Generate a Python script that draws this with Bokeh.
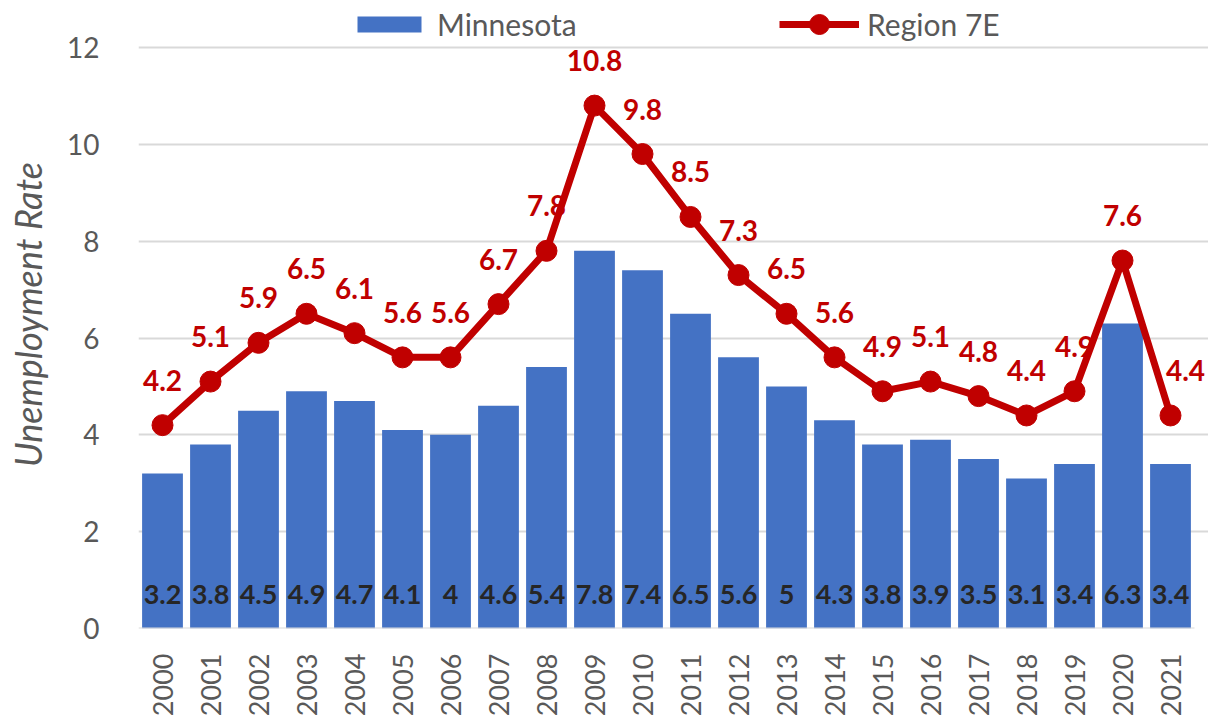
import math
from bokeh.plotting import figure
from bokeh.models import ColumnDataSource, FixedTicker, Legend, LegendItem, Range1d
from bokeh.core.properties import value
from bokeh.embed import file_html
from bokeh.resources import INLINE

years = list(range(2000, 2022))
minnesota = [3.2, 3.8, 4.5, 4.9, 4.7, 4.1, 4.0, 4.6, 5.4, 7.8, 7.4, 6.5, 5.6, 5.0, 4.3, 3.8, 3.9, 3.5, 3.1, 3.4, 6.3, 3.4]
region7e = [4.2, 5.1, 5.9, 6.5, 6.1, 5.6, 5.6, 6.7, 7.8, 10.8, 9.8, 8.5, 7.3, 6.5, 5.6, 4.9, 5.1, 4.8, 4.4, 4.9, 7.6, 4.4]
y_ticks = [0, 2, 4, 6, 8, 10, 12]

def fmt(v):
    return str(int(v)) if float(v).is_integer() else f"{v:g}"

src = ColumnDataSource(dict(
    year=years,
    mn=minnesota,
    r7=region7e,
    mn_lbl=[fmt(v) for v in minnesota],
    zero=[0] * len(years),
))
rest = ColumnDataSource(dict(year=years[:-1], r7=region7e[:-1], r7_lbl=[fmt(v) for v in region7e[:-1]]))
last = ColumnDataSource(dict(year=years[-1:], r7=region7e[-1:], r7_lbl=[fmt(v) for v in region7e[-1:]]))

FONT = "Lato"
GRAY = "#595959"
RED = "#C00000"
BLUE = "#4472C4"

# frame: 48 px per year (plus room on the right for the last label), room on top for the legend
PX_PER_UNIT = 581 / 12
x_range = Range1d(years[0] - 0.5, years[-1] + 0.5 + 14 / 48)
y_range = Range1d(0, 12 + 47 / PX_PER_UNIT)

p = figure(x_range=x_range, y_range=y_range, width=1208, height=720,
           output_backend="svg", toolbar_location=None,
           min_border_left=138, min_border_right=0, min_border_top=0, min_border_bottom=92)
p.outline_line_color = None
p.background_fill_color = "white"
p.border_fill_color = "white"

bars = p.vbar(x="year", top="mn", width=0.85, source=src, fill_color=BLUE, line_color=None)
ln = p.line(x="year", y="r7", source=src, line_color=RED, line_width=7)
sc = p.scatter(x="year", y="r7", source=src, size=21, fill_color=RED, line_color=RED)

# bar value labels
p.text(x="year", y="zero", text="mn_lbl", source=src, text_align="center", text_baseline="middle",
       y_offset=-34, text_font=value(FONT), text_font_style="bold", text_font_size="27px", text_color="#262626")
# line value labels
p.text(x="year", y="r7", text="r7_lbl", source=rest, text_align="center", text_baseline="middle",
       y_offset=-45, text_font=value(FONT), text_font_style="bold", text_font_size="28px", text_color=RED)
p.text(x="year", y="r7", text="r7_lbl", source=last, text_align="center", text_baseline="middle",
       x_offset=15, y_offset=-45, text_font=value(FONT), text_font_style="bold", text_font_size="28px", text_color=RED)

# axes
p.yaxis.ticker = FixedTicker(ticks=y_ticks)
p.yaxis.axis_line_color = None
p.yaxis.major_tick_line_color = None
p.yaxis.minor_tick_line_color = None
p.yaxis.major_label_standoff = 33
p.yaxis.major_label_text_font = FONT
p.yaxis.major_label_text_font_size = "28px"
p.yaxis.major_label_text_color = GRAY
p.yaxis.axis_label = "Unemployment Rate"
p.yaxis.axis_label_text_font = FONT
p.yaxis.axis_label_text_font_style = "italic"
p.yaxis.axis_label_text_font_size = "36px"
p.yaxis.axis_label_text_color = GRAY
p.yaxis.axis_label_standoff = 14

p.xaxis.ticker = FixedTicker(ticks=years)
p.xaxis.major_label_overrides = {y: str(y) for y in years}
p.xaxis.axis_line_color = None
p.xaxis.major_tick_line_color = None
p.xaxis.minor_tick_line_color = None
p.xaxis.major_label_orientation = math.pi / 2
p.xaxis.major_label_standoff = 19
p.xaxis.major_label_text_font = FONT
p.xaxis.major_label_text_font_size = "27px"
p.xaxis.major_label_text_color = GRAY

p.xgrid.grid_line_color = None
p.ygrid.grid_line_color = "#D9D9D9"
p.ygrid.grid_line_width = 2

# baseline at zero spanning the categories only
p.segment(x0=[years[0] - 0.5], x1=[years[-1] + 0.5], y0=[0], y1=[0], line_color="#D9D9D9", line_width=2)

common = dict(orientation="horizontal", glyph_width=80, label_height=20, label_standoff=8,
              padding=0, margin=0, label_text_font=FONT, label_text_font_size="30px",
              label_text_color=GRAY, border_line_color=None, background_fill_alpha=0)
leg_bar = Legend(items=[LegendItem(label="Minnesota", renderers=[bars])],
                 glyph_height=20, location=(211, 586), **common)
leg_line = Legend(items=[LegendItem(label="Region 7E", renderers=[ln, sc])],
                  glyph_height=50, location=(641, 579), **common)
p.add_layout(leg_bar, "center")
p.add_layout(leg_line, "center")

open("out.html", "w").write(file_html(p, INLINE))
